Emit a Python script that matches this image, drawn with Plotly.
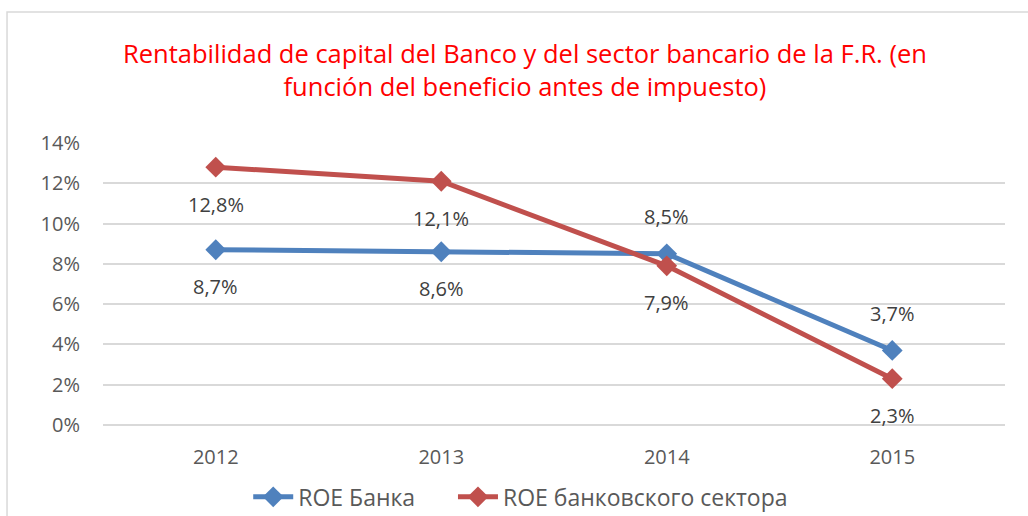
import plotly.graph_objects as go

years = ["2012", "2013", "2014", "2015"]
roe_bank = [8.7, 8.6, 8.5, 3.7]
roe_sector = [12.8, 12.1, 7.9, 2.3]
bank_label_side = [-1, -1, 1, 1]      # -1 below the point, 1 above
sector_label_side = [-1, -1, -1, -1]
y_ticks = [0, 2, 4, 6, 8, 10, 12, 14]

BLUE = "#4F81BD"
RED = "#C0504D"
FONT = "Open Sans, Noto Sans, sans-serif"


def fmt(v):
    return f"{v:.1f}%".replace(".", ",")


fig = go.Figure()
fig.add_trace(go.Scatter(
    x=years, y=roe_bank, name="ROE Банка", mode="lines+markers",
    line=dict(color=BLUE, width=5),
    marker=dict(symbol="diamond", size=16, color=BLUE),
    legend="legend",
))
fig.add_trace(go.Scatter(
    x=years, y=roe_sector, name="ROE банковского сектора", mode="lines+markers",
    line=dict(color=RED, width=5),
    marker=dict(symbol="diamond", size=16, color=RED),
    legend="legend2",
))

annotations = []
for vals, sides in ((roe_bank, bank_label_side), (roe_sector, sector_label_side)):
    for i, (v, s) in enumerate(zip(vals, sides)):
        annotations.append(dict(
            x=i, y=v, xref="x", yref="y", text=fmt(v), showarrow=False,
            yshift=37 * s, font=dict(family=FONT, size=20, color="#404040"),
        ))

annotations.append(dict(
    text="Rentabilidad de capital del Banco y del sector bancario de la F.R. (en<br>función del beneficio antes de impuesto)",
    xref="paper", yref="paper", x=0.468, y=1.0, yshift=74, showarrow=False,
    xanchor="center", yanchor="middle", align="center",
    font=dict(family=FONT, size=25.5, color="#FF0000"),
))

legend_style = dict(orientation="h", xanchor="left",
                    yref="container", y=0.037, yanchor="middle",
                    font=dict(family=FONT, size=23, color="#595959"),
                    itemwidth=40)

fig.update_layout(
    width=1028, height=516,
    margin=dict(l=103, r=23, t=143, b=91, autoexpand=False),
    paper_bgcolor="white", plot_bgcolor="white",
    showlegend=True,
    legend=dict(x=0.161, **legend_style),
    legend2=dict(x=0.388, **legend_style),
    annotations=annotations,
    shapes=[dict(type="rect", xref="paper", yref="paper",
                 x0=-0.1064, x1=1.2, y0=-0.5, y1=1.4645,
                 line=dict(color="#D9D9D9", width=1.5))],
)
fig.update_xaxes(
    type="category", range=[-0.5, 3.5], showgrid=False, showline=False,
    ticks="", ticklabelstandoff=18,
    tickfont=dict(family=FONT, size=20, color="#595959"),
)
fig.update_yaxes(
    range=[0, 14], tickvals=y_ticks, ticktext=[f"{t}%" for t in y_ticks],
    showgrid=True, gridcolor="#D9D9D9", gridwidth=1.5,
    zeroline=True, zerolinecolor="#D9D9D9", zerolinewidth=1.5,
    showline=False, ticks="", ticklabelstandoff=22,
    tickfont=dict(family=FONT, size=20, color="#595959"),
)

fig.write_html("out.html")
